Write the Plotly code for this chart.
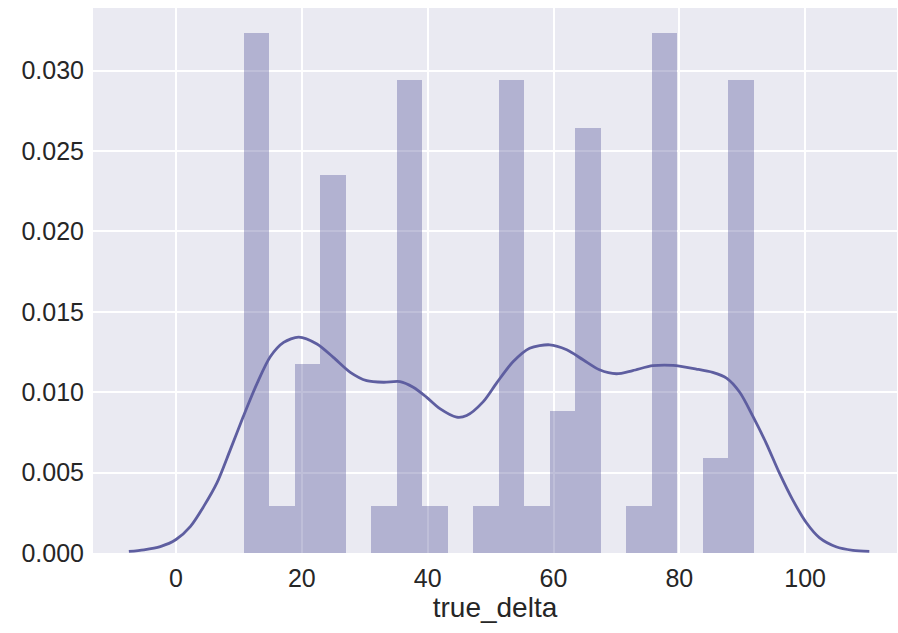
import numpy as np
import plotly.graph_objects as go

# Histogram: 20 bins between data min and max, counts per bin
data_min = 10.8
data_max = 91.8
bin_counts = [11, 1, 4, 8, 0, 1, 10, 1, 0, 1, 10, 1, 3, 9, 0, 1, 11, 0, 2, 10]

# KDE curve
kde_x = [-7.5, -5.1, -2.5, 0.0, 2.3, 4.4, 6.5, 8.6, 10.7, 12.9, 15.0, 17.1, 19.5,
         22.4, 25.0, 27.7, 30.3, 33.0, 35.6, 37.7, 39.8, 42.0, 44.6, 46.2, 48.8,
         51.0, 53.6, 56.2, 59.4, 62.1, 64.7, 67.3, 70.0, 72.6, 75.8, 79.0, 82.7,
         85.3, 87.5, 89.6, 91.7, 93.8, 95.9, 98.0, 100.2, 102.3, 104.9, 107.6, 110.2]
kde_y = [0.0001, 0.0002, 0.0004, 0.00084, 0.00166, 0.0029, 0.00436, 0.0064, 0.0085,
         0.01057, 0.01222, 0.0131, 0.01343, 0.0130, 0.01217, 0.01124, 0.01072, 0.01062,
         0.01066, 0.01031, 0.0097, 0.00896, 0.00845, 0.00855, 0.0094, 0.0106, 0.01191,
         0.01274, 0.01295, 0.01264, 0.01202, 0.0114, 0.01115, 0.01135, 0.01165, 0.01167,
         0.01144, 0.01123, 0.01088, 0.0100, 0.0085, 0.00684, 0.00498, 0.00332, 0.00188,
         0.00094, 0.00039, 0.00017, 0.0001]

x_ticks = [0, 20, 40, 60, 80, 100]
y_ticks = [0.000, 0.005, 0.010, 0.015, 0.020, 0.025, 0.030]
x_label = "true_delta"

edges = np.linspace(data_min, data_max, len(bin_counts) + 1)
width = edges[1] - edges[0]
centers = (edges[:-1] + edges[1:]) / 2
n = sum(bin_counts)
density = [c / (n * width) for c in bin_counts]

base = "94,94,160"
fig = go.Figure()
fig.add_trace(go.Bar(
    x=centers, y=density, width=[width] * len(centers),
    marker=dict(color=f"rgba({base},0.4)", line=dict(width=0)),
    showlegend=False, hoverinfo="skip",
))
fig.add_trace(go.Scatter(
    x=kde_x, y=kde_y, mode="lines",
    line=dict(color=f"rgb({base})", width=2.8, shape="spline", smoothing=0.8),
    showlegend=False,
))

font = dict(family="Liberation Sans, Arial, sans-serif", size=25, color="#262626")
fig.update_layout(
    width=898, height=633,
    margin=dict(l=93, r=1, t=8, b=80),
    paper_bgcolor="white", plot_bgcolor="#EAEAF2",
    font=font, bargap=0,
    xaxis=dict(range=[-13.2, 114.6], tickvals=x_ticks, ticktext=[str(v) for v in x_ticks],
               showgrid=True, gridcolor="white", gridwidth=1.8, zeroline=False,
               showline=False, ticks="", ticklabelstandoff=8,
               title=dict(text=x_label, font=dict(size=28), standoff=2)),
    yaxis=dict(range=[0, 0.0339], tickvals=y_ticks, ticktext=[f"{v:.3f}" for v in y_ticks],
               showgrid=True, gridcolor="white", gridwidth=1.8, zeroline=False,
               showline=False, ticks="", ticklabelstandoff=8),
)
fig.write_html("out.html", config={"displayModeBar": False},
               post_script="document.body.style.margin='0px';")
